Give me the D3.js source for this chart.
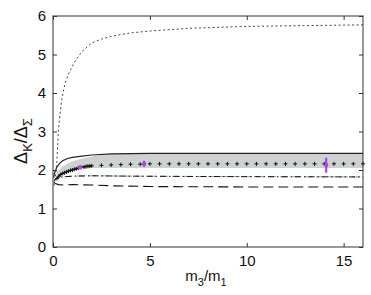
<!DOCTYPE html>
<html>
<head>
<meta charset="utf-8">
<script src="https://cdn.jsdelivr.net/npm/d3@7/dist/d3.min.js"></script>
<style>
  body { margin: 0; background: #fff; }
  svg text { font-family: "Liberation Sans", Arial, sans-serif; fill: #111; }
</style>
</head>
<body>
<svg id="chart" width="371" height="295"></svg>
<script>
// ---- data ----
var dottedX = [0.05, 0.1, 0.2, 0.27, 0.35, 0.45, 0.62, 0.85, 1.13, 1.5, 2, 2.5, 3, 4, 5, 7, 10, 13, 16];
var dottedY = [1.6, 1.75, 2.2, 2.96, 3.4, 3.82, 4.26, 4.55, 4.82, 5.08, 5.3, 5.4, 5.47, 5.56, 5.61, 5.68, 5.73, 5.75, 5.77];

var solidX = [0.03, 0.1, 0.2, 0.35, 0.5, 0.75, 1, 1.5, 2, 3, 5, 10, 16];
var solidY = [1.8, 1.95, 2.08, 2.18, 2.24, 2.3, 2.33, 2.36, 2.39, 2.42, 2.43, 2.43, 2.43];

var bandX  = [0.2, 0.35, 0.5, 0.75, 1, 1.5, 2, 2.5, 3, 4, 6, 10, 16];
var bandHi = [1.95, 2.02, 2.1, 2.17, 2.23, 2.3, 2.35, 2.39, 2.42, 2.43, 2.43, 2.43, 2.43];
var bandLo = [1.85, 1.88, 1.92, 1.97, 2.0, 2.03, 2.05, 2.05, 2.05, 2.05, 2.05, 2.05, 2.05];

var plusX = [0.2, 0.3, 0.4, 0.5, 0.6, 0.7, 0.8, 0.9, 1.0, 1.1, 1.2, 1.3, 1.45, 1.6, 1.7, 1.8, 1.9, 2.0,
             2.5, 3, 3.5, 4, 4.5, 5, 5.5, 6, 6.5, 7, 7.5, 8, 8.5, 9, 9.5, 10, 10.5, 11, 11.5, 12,
             12.5, 13, 13.5, 14, 14.5, 15, 15.5, 16];
var plusY = [1.78, 1.84, 1.88, 1.91, 1.93, 1.95, 1.97, 1.99, 2.0, 2.02, 2.03, 2.05, 2.07, 2.08, 2.09, 2.1, 2.1, 2.11,
             2.12, 2.13, 2.14, 2.15, 2.15, 2.16, 2.16, 2.16, 2.16, 2.16, 2.16, 2.16, 2.16, 2.16, 2.16, 2.16, 2.16, 2.16, 2.16, 2.16,
             2.16, 2.16, 2.16, 2.16, 2.16, 2.16, 2.16, 2.16];

var dashDotX = [0.05, 0.15, 0.3, 0.5, 1, 2, 4, 8, 16];
var dashDotY = [1.7, 1.78, 1.8, 1.82, 1.84, 1.85, 1.84, 1.83, 1.82];

var longDashX = [0.05, 0.15, 0.3, 0.5, 1, 2, 3, 5, 10, 16];
var longDashY = [1.68, 1.64, 1.62, 1.61, 1.62, 1.61, 1.59, 1.57, 1.56, 1.56];

var errX  = [1.4, 4.7, 14.1];
var errY  = [2.07, 2.16, 2.13];
var errLo = [2.04, 2.08, 1.93];
var errHi = [2.10, 2.24, 2.32];

var xTicks = [0, 5, 10, 15];
var yTicks = [0, 1, 2, 3, 4, 5, 6];

// ---- layout ----
var mLeft = 53, mRight = 363, mTop = 16, mBottom = 247;
var svg = d3.select("#chart");

var x = d3.scaleLinear().domain([0, 16]).range([mLeft, mRight]);
var y = d3.scaleLinear().domain([0, 6]).range([mBottom, mTop]);

function pts(xs, ys) { return xs.map(function(v, i) { return [v, ys[i]]; }); }

var line = d3.line()
    .x(function(d) { return x(d[0]); })
    .y(function(d) { return y(d[1]); });

var plot = svg.append("g");

// shaded band
var band = bandX.map(function(v, i) { return [v, bandLo[i], bandHi[i]]; });
plot.append("path")
    .datum(band)
    .attr("fill", "#cdd2d1")
    .attr("d", d3.area()
        .x(function(d) { return x(d[0]); })
        .y0(function(d) { return y(d[1]); })
        .y1(function(d) { return y(d[2]); }));

// upper solid line
plot.append("path")
    .datum(pts(solidX, solidY))
    .attr("fill", "none").attr("stroke", "#222").attr("stroke-width", 1.2)
    .attr("d", line);

// dotted curve
plot.append("path")
    .datum(pts(dottedX, dottedY))
    .attr("fill", "none").attr("stroke", "#444").attr("stroke-width", 1)
    .attr("stroke-dasharray", "2,2.5")
    .attr("d", line);

// dash-dot line (black) with a grey partner
plot.append("path")
    .datum(pts(dashDotX, dashDotY))
    .attr("fill", "none").attr("stroke", "#999").attr("stroke-width", 1)
    .attr("stroke-dasharray", "8,4")
    .attr("d", line);
plot.append("path")
    .datum(pts(dashDotX, dashDotY))
    .attr("fill", "none").attr("stroke", "#111").attr("stroke-width", 1)
    .attr("stroke-dasharray", "6,3,1.5,3")
    .attr("d", line);

// long dash line
plot.append("path")
    .datum(pts(longDashX, longDashY))
    .attr("fill", "none").attr("stroke", "#111").attr("stroke-width", 1.1)
    .attr("stroke-dasharray", "10,5")
    .attr("d", line);

// plus markers joined at start
plot.append("path")
    .datum(pts(plusX.slice(0, 18), plusY.slice(0, 18)))
    .attr("fill", "none").attr("stroke", "#111").attr("stroke-width", 1)
    .attr("d", line);
plot.selectAll("path.plus")
    .data(pts(plusX, plusY))
    .enter().append("path")
    .attr("class", "plus")
    .attr("stroke", "#111").attr("stroke-width", 1)
    .attr("d", function(d) {
        var cx = x(d[0]), cy = y(d[1]);
        return "M" + (cx - 2) + "," + cy + "H" + (cx + 2) + "M" + cx + "," + (cy - 2) + "V" + (cy + 2);
    });

// purple error bars
var errs = errX.map(function(v, i) { return { x: v, y: errY[i], lo: errLo[i], hi: errHi[i] }; });
var eg = plot.selectAll("g.err").data(errs).enter().append("g").attr("class", "err");
eg.append("line")
    .attr("x1", function(d) { return x(d.x); }).attr("x2", function(d) { return x(d.x); })
    .attr("y1", function(d) { return y(d.lo); }).attr("y2", function(d) { return y(d.hi); })
    .attr("stroke", "#a435f0").attr("stroke-width", 2);
eg.append("circle")
    .attr("cx", function(d) { return x(d.x); }).attr("cy", function(d) { return y(d.y); })
    .attr("r", 2.2).attr("fill", "#b040f0");

// ---- axes (box, inward ticks) ----
var axisColor = "#333";
svg.append("rect")
    .attr("x", mLeft).attr("y", mTop)
    .attr("width", mRight - mLeft).attr("height", mBottom - mTop)
    .attr("fill", "none").attr("stroke", axisColor).attr("stroke-width", 1);

var xb = svg.append("g").attr("transform", "translate(0," + mBottom + ")")
    .call(d3.axisBottom(x).tickValues(xTicks).tickSizeInner(-4).tickSizeOuter(0).tickPadding(8)
        .tickFormat(d3.format("d")));
var xt = svg.append("g").attr("transform", "translate(0," + mTop + ")")
    .call(d3.axisTop(x).tickValues(xTicks).tickSizeInner(-4).tickSizeOuter(0).tickFormat(""));
var yl = svg.append("g").attr("transform", "translate(" + mLeft + ",0)")
    .call(d3.axisLeft(y).tickValues(yTicks).tickSizeInner(-4).tickSizeOuter(0).tickPadding(7)
        .tickFormat(d3.format("d")));
var yr = svg.append("g").attr("transform", "translate(" + mRight + ",0)")
    .call(d3.axisRight(y).tickValues(yTicks).tickSizeInner(-4).tickSizeOuter(0).tickFormat(""));

[xb, xt, yl, yr].forEach(function(g) {
    g.select(".domain").remove();
    g.selectAll(".tick line").attr("stroke", axisColor);
    g.selectAll(".tick text")
        .style("font-family", "'Liberation Sans', Arial, sans-serif")
        .style("font-size", "15px").attr("fill", "#111");
});

// axis labels
var xl = svg.append("text")
    .attr("x", 206).attr("y", 281)
    .attr("text-anchor", "middle")
    .style("font-size", "15px");
xl.append("tspan").text("m");
xl.append("tspan").attr("dy", 5).style("font-size", "11px").text("3");
xl.append("tspan").attr("dy", -5).text("/m");
xl.append("tspan").attr("dy", 5).style("font-size", "11px").text("1");

var ylab = svg.append("text")
    .attr("transform", "translate(27,141) rotate(-90)")
    .attr("text-anchor", "middle")
    .style("font-size", "18px");
ylab.append("tspan").text("Δ");
ylab.append("tspan").attr("dy", 5).style("font-size", "13px").text("K");
ylab.append("tspan").attr("dy", -5).text("/Δ");
ylab.append("tspan").attr("dy", 5).style("font-size", "13px").text("Σ");
</script>
</body>
</html>
